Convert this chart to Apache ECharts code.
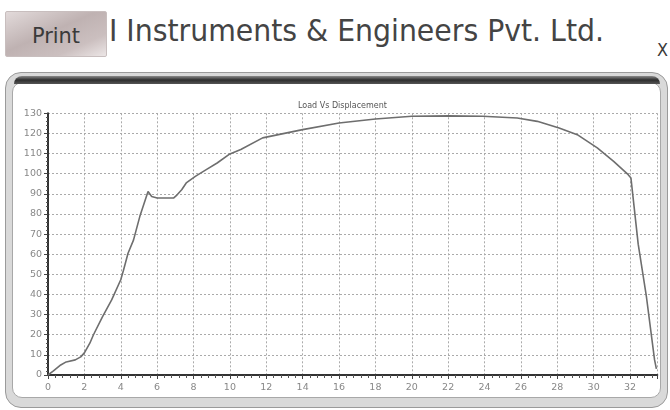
<!DOCTYPE html>
<html>
<head>
<meta charset="utf-8">
<script src="https://cdn.jsdelivr.net/npm/echarts@6/dist/echarts.min.js"></script>
<style>
  html, body { margin:0; padding:0; background:#fff; width:670px; height:410px; overflow:hidden; }
  #btn { position:absolute; left:5px; top:11px; width:100px; height:44px;
         border:1px solid #c8bebe; border-radius:2px;
         background:linear-gradient(to bottom right, #e2dada 0%, #bfb2b2 45%, #cbbfbf 75%, #ece6e6 100%); }
  .txt { position:absolute; white-space:nowrap; transform-origin:0 0; font-family:"DejaVu Sans Condensed","DejaVu Sans",sans-serif; }
  #frameOuter { position:absolute; left:5px; top:72px; width:663px; height:336px; border-radius:16px;
                background:#d9d9d9; border:1px solid #9a9a9a; box-sizing:border-box; }
  #frameTop { position:absolute; left:14px; top:76px; width:646px; height:8px; border-radius:8px 8px 0 0;
              background:linear-gradient(to bottom, #8a8a8a, #2e2e2e 50%, #555); }
  #frameInner { position:absolute; left:12px; top:82px; width:649px; height:316px; border-radius:10px;
                background:#fff; border:1px solid #a8a8a8; box-sizing:border-box; }
  #chart { position:absolute; left:0; top:0; width:670px; height:410px; }
</style>
</head>
<body>
<div id="btn"></div>
<div id="frameOuter"></div>
<div id="frameInner"></div>
<div id="frameTop"></div>
<div id="tPrint" class="txt" style="color:#3a3a3a;">Print</div>
<div id="tHead" class="txt" style="color:#444;">I Instruments &amp; Engineers Pvt. Ltd.</div>
<div id="tX" class="txt" style="color:#3a3a3a;">X</div>
<div id="chart"></div>
<script>
// ---- data ----
const chartTitle = "Load Vs Displacement";
const displacement = [0,0.3,0.7,1,1.5,1.8,2,2.3,2.5,3,3.5,4,4.15,4.4,4.7,5.05,5.5,5.7,6,6.35,6.45,6.7,6.9,7.1,7.35,7.6,8.1,8.7,9.3,10,10.6,11.8,14,16,18,20,22,23.9,25.8,26.9,28.1,29.1,30.2,31.1,31.9,32.05,32.45,32.9,33.35,33.45];
const load = [0,2,5,6.5,7.5,9,11,15.8,20,29,37.3,47.3,52,60.5,67,78.8,91.2,88.7,87.9,87.9,88.7,87.9,87.9,89.5,92,95.4,98.7,102,105.3,109.8,112,117.8,121.9,125.2,127.2,128.5,128.7,128.5,127.7,126,122.7,119.4,112.8,106.1,99.5,97.9,65,39,7.5,3];
const xTicks = [0,2,4,6,8,10,12,14,16,18,20,22,24,26,28,30,32];
const yTicks = [0,10,20,30,40,50,60,70,80,90,100,110,120,130];

// ---- header texts fitted to measured widths ----
function place(id, size, left, baseline, targetW) {
  const el = document.getElementById(id);
  el.style.fontSize = size + 'px';
  el.style.lineHeight = size + 'px';
  const w = el.getBoundingClientRect().width;
  const s = targetW / w;
  // baseline approx 0.76*size from top for DejaVu
  el.style.left = left + 'px';
  el.style.top = (baseline - 0.93 * size) + 'px';
  el.style.transform = 'scaleX(' + s + ')';
}
place('tPrint', 22, 32, 45, 48);
place('tHead', 31, 109, 44, 495);
place('tX', 18, 657, 58, 11);

const chart = echarts.init(document.getElementById('chart'), null, {renderer:'canvas'});
const font = '"DejaVu Sans", sans-serif';
chart.setOption({
  animation: false,
  backgroundColor: 'transparent',
  title: { text: chartTitle, left: 293, top: 97,
           textStyle: { fontSize: 8, fontWeight: 'normal', color: '#555', fontFamily: font } },
  grid: { left: 48, right: 12.7, top: 113.3, bottom: 35 },
  xAxis: {
    type: 'value', min: 0, max: 33.5, interval: 2,
    axisLine: { onZero: false, lineStyle: { color: '#333', width: 2 } },
    axisTick: { show: true, length: 4, inside: false, lineStyle: { color: '#444' } },
    minorTick: { show: true, splitNumber: 5, length: 3, lineStyle: { color: '#555' } },
    axisLabel: { color: '#888', fontSize: 9.5, fontFamily: font, margin: 8, showMaxLabel: false,
                 formatter: v => (xTicks.indexOf(v) >= 0 ? String(v) : '') },
    splitLine: { show: true, lineStyle: { color: '#aaa', type: [2, 2], width: 1 } }
  },
  yAxis: {
    type: 'value', min: 0, max: 130, interval: 10,
    axisLine: { show: true, onZero: false, lineStyle: { color: '#333', width: 2 } },
    axisTick: { show: true, length: 4, lineStyle: { color: '#444' } },
    minorTick: { show: true, splitNumber: 5, length: 2, lineStyle: { color: '#555' } },
    axisLabel: { color: '#888', fontSize: 9.5, fontFamily: font, margin: 6,
                 formatter: v => (yTicks.indexOf(v) >= 0 ? String(v) : '') },
    splitLine: { show: true, lineStyle: { color: '#aaa', type: [2, 2], width: 1 } }
  },
  series: [{
    type: 'line', showSymbol: false, smooth: false,
    data: displacement.map((x, i) => [x, load[i]]),
    lineStyle: { color: '#6e6e6e', width: 1.6 }
  }]
});
</script>
</body>
</html>
